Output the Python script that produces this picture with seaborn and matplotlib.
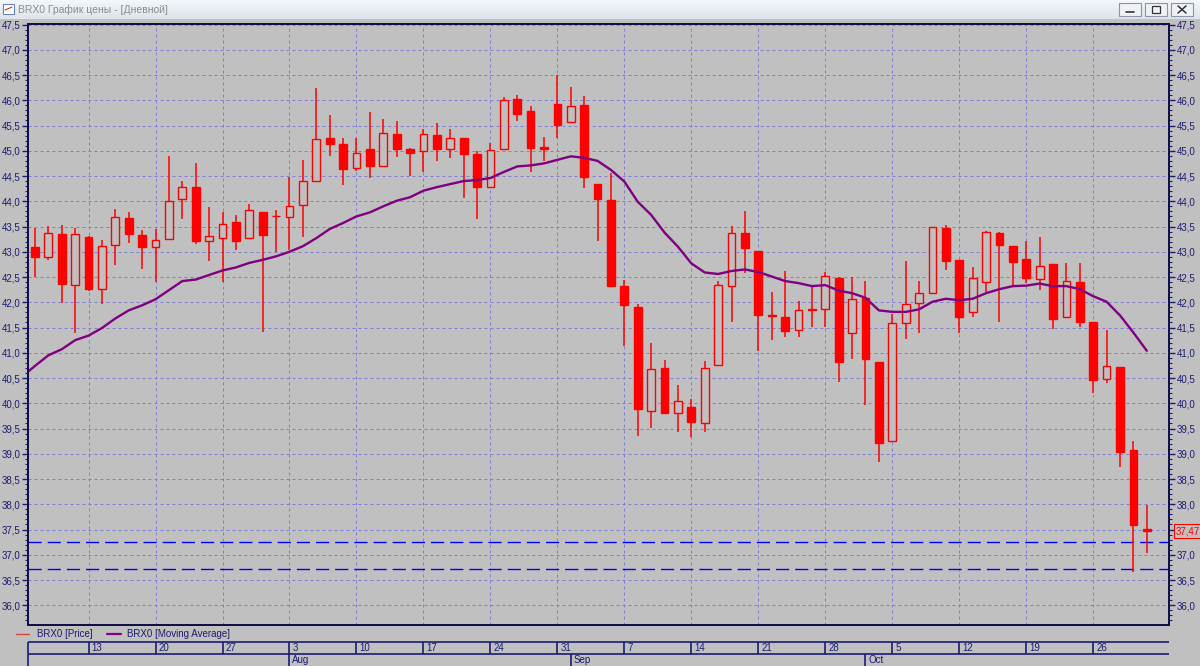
import numpy as np
import pandas as pd
import matplotlib
matplotlib.use("Agg")
import matplotlib.pyplot as plt
import matplotlib.transforms as mtrans
import seaborn as sns
from matplotlib.lines import Line2D
from matplotlib.patches import Rectangle
from matplotlib.ticker import MultipleLocator, FuncFormatter

# ---------------- data ----------------
trade_dates = pd.bdate_range("2020-07-07", "2020-10-30")   # 84 daily candles

opens = [43.09, 42.90, 43.35, 42.34, 43.29, 42.27, 43.13, 43.67, 43.33, 43.10,
         43.25, 44.04, 44.28, 43.21, 43.28, 43.59, 43.27, 43.78, 43.70, 43.69,
         43.92, 44.40, 45.26, 45.14, 44.65, 45.04, 44.70, 45.33, 45.04, 45.00,
         45.31, 45.04, 45.25, 44.94, 44.29, 45.04, 46.03, 45.79, 45.08, 45.93,
         45.56, 45.91, 44.34, 44.02, 42.33, 41.90, 39.85, 40.70, 39.81, 39.93,
         39.60, 40.75, 42.33, 43.37, 43.02, 41.74, 41.70, 41.45, 41.84, 41.86,
         42.49, 41.39, 42.09, 40.81, 39.25, 41.58, 41.99, 42.18, 43.47, 42.83,
         41.80, 42.41, 43.38, 43.12, 42.86, 42.47, 42.75, 41.70, 42.41, 41.60,
         40.49, 40.72, 39.08, 37.51]
highs = [43.47, 43.52, 43.54, 43.47, 43.31, 43.23, 43.85, 43.78, 43.44, 43.45,
         44.89, 44.41, 44.76, 43.89, 43.78, 43.72, 43.94, 43.78, 43.82, 44.48,
         44.82, 46.24, 45.71, 45.26, 45.26, 45.76, 45.62, 45.59, 45.05, 45.43,
         45.54, 45.43, 45.25, 45.00, 45.16, 46.07, 46.10, 45.89, 45.28, 46.51,
         46.26, 46.09, 44.34, 44.55, 42.44, 41.97, 41.19, 40.85, 40.36, 40.08,
         40.83, 42.42, 43.51, 43.81, 43.02, 42.21, 42.61, 42.03, 42.31, 42.59,
         42.50, 42.50, 42.43, 40.81, 41.76, 42.82, 42.42, 43.50, 43.54, 42.83,
         42.69, 43.42, 43.40, 43.12, 43.22, 43.29, 42.75, 42.78, 42.78, 41.60,
         41.45, 40.72, 39.26, 37.99]
lows = [42.50, 42.83, 41.99, 41.40, 42.22, 41.96, 42.73, 43.17, 42.66, 42.40,
        43.24, 43.64, 43.16, 42.81, 42.40, 43.03, 43.26, 41.41, 42.99, 43.04,
        43.30, 44.39, 44.90, 44.32, 44.59, 44.46, 44.69, 44.87, 44.50, 44.57,
        44.79, 44.85, 44.07, 43.65, 44.28, 45.04, 45.58, 44.58, 44.80, 45.25,
        45.56, 44.27, 43.21, 42.33, 41.14, 39.36, 39.51, 39.79, 39.43, 39.33,
        39.43, 40.75, 41.60, 42.57, 41.03, 41.26, 41.32, 41.31, 41.52, 41.52,
        40.43, 40.87, 39.97, 38.84, 39.25, 41.28, 41.40, 42.18, 42.64, 41.40,
        41.70, 42.20, 41.61, 42.34, 42.38, 42.24, 41.47, 41.70, 41.51, 40.21,
        40.41, 38.74, 36.66, 37.04]
closes = [42.89, 43.37, 42.36, 43.35, 42.27, 43.11, 43.68, 43.35, 43.10, 43.24,
          44.01, 44.28, 43.22, 43.31, 43.55, 43.22, 43.83, 43.33, 43.71, 43.90,
          44.40, 45.23, 45.14, 44.63, 44.96, 44.69, 45.36, 45.04, 44.96, 45.34,
          45.04, 45.26, 44.94, 44.29, 45.02, 46.00, 45.72, 45.06, 45.04, 45.52,
          45.88, 44.48, 44.04, 42.33, 41.95, 39.88, 40.68, 39.81, 40.04, 39.62,
          40.70, 42.35, 43.37, 43.08, 41.74, 41.72, 41.43, 41.85, 41.86, 42.53,
          40.82, 42.07, 40.88, 39.22, 41.58, 41.97, 42.18, 43.50, 42.82, 41.71,
          42.48, 43.40, 43.13, 42.80, 42.48, 42.72, 41.67, 42.43, 41.61, 40.47,
          40.74, 39.04, 37.59, 37.47]

ma_dates = pd.bdate_range("2020-07-06", "2020-10-30")     # one day earlier
ma_values = [40.52,
             40.74, 40.95, 41.07, 41.25, 41.34, 41.49, 41.68, 41.84, 41.94, 42.06,
             42.24, 42.42, 42.45, 42.54, 42.63, 42.69, 42.78, 42.84, 42.91, 43.00,
             43.11, 43.27, 43.45, 43.57, 43.70, 43.78, 43.90, 44.01, 44.08, 44.21,
             44.28, 44.34, 44.40, 44.42, 44.46, 44.58, 44.69, 44.71, 44.75, 44.82,
             44.89, 44.86, 44.80, 44.62, 44.39, 43.99, 43.73, 43.38, 43.10, 42.77,
             42.59, 42.56, 42.62, 42.65, 42.60, 42.51, 42.42, 42.38, 42.32, 42.34,
             42.23, 42.18, 42.09, 41.84, 41.81, 41.81, 41.86, 42.01, 42.07, 42.04,
             42.07, 42.18, 42.26, 42.32, 42.33, 42.37, 42.32, 42.32, 42.26, 42.12,
             42.01, 41.74, 41.40, 41.04]

level_lines = [37.26, 36.72]
last_price = 37.47
title_text = "BRX0 График цены - [Дневной]"
legend_labels = ["BRX0 [Price]", "BRX0 [Moving Average]"]

# ---------------- style ----------------
W, H = 1200, 666
BG = "#c0c0c0"
NAVY = "#1c1c72"
RED = "#ff0000"
PURPLE = "#800080"
GRID = "#7f7fd4"

sns.set_theme(style="white")
plt.rcParams["font.family"] = ["Liberation Sans", "DejaVu Sans"]

fig = plt.figure(figsize=(12, 6.66), dpi=100, facecolor=BG)


def px(x0, y0, x1, y1):
    return [x0 / W, 1 - y1 / H, (x1 - x0) / W, (y1 - y0) / H]


df = pd.DataFrame({"date": trade_dates, "open": opens, "high": highs,
                   "low": lows, "close": closes})
df["pos"] = np.arange(len(df))
ma_df = pd.DataFrame({"date": ma_dates, "ma": ma_values})
ma_df["pos"] = np.arange(len(ma_df)) - 1

XLIM = (-0.55, 84.62)
YLIM = (35.61, 47.52)

ax = fig.add_axes(px(27.6, 23.5, 1168.5, 625))
ax.set_facecolor(BG)

# candles
up = (df["close"] >= df["open"]).values
ax.vlines(df["pos"], df["low"], df["high"], color=RED, lw=1.1, zorder=3)
body_bottom = np.minimum(df["open"], df["close"])
body_h = np.maximum(np.abs(df["close"] - df["open"]), 0.012)
ax.bar(df["pos"][~up], body_h[~up], bottom=body_bottom[~up], width=0.58,
       color=RED, edgecolor=RED, lw=1.0, zorder=4)
ax.bar(df["pos"][up], body_h[up], bottom=body_bottom[up], width=0.58,
       facecolor=BG, edgecolor=RED, lw=1.0, zorder=4)

# moving average
sns.lineplot(data=ma_df, x="pos", y="ma", color=PURPLE, lw=1.7, ax=ax,
             zorder=5, legend=False)

for v in level_lines:
    ax.axhline(v, color="#0000ff", lw=1.0, dashes=(9.5, 4.3), zorder=2)

monday_pos = [i for i, d in enumerate(trade_dates) if d.weekday() == 0]
ax.set_xticks(monday_pos)
ax.set_xlim(*XLIM)
ax.set_ylim(*YLIM)
ax.set_xlabel("")
ax.set_ylabel("")
ax.grid(True, which="major", color=GRID, lw=0.72, linestyle=(0, (3, 3)), zorder=0)
ax.set_axisbelow(True)
ax.tick_params(axis="x", length=0, labelbottom=False)

fmt = FuncFormatter(lambda v, p: f"{v:.1f}".replace(".", ","))
ax.yaxis.set_major_locator(MultipleLocator(0.5))
ax.yaxis.set_minor_locator(MultipleLocator(0.1))
ax.yaxis.set_major_formatter(fmt)
ax.tick_params(axis="y", which="major", direction="out", length=4, width=1,
               color=NAVY, labelcolor=NAVY, labelsize=7, pad=1, left=True)
ax.tick_params(axis="y", which="minor", direction="out", length=2, width=0.8,
               color=NAVY, left=True)

ax2 = ax.twinx()
ax2.set_ylim(*YLIM)
ax2.yaxis.set_major_locator(MultipleLocator(0.5))
ax2.yaxis.set_minor_locator(MultipleLocator(0.1))
ax2.yaxis.set_major_formatter(FuncFormatter(
    lambda v, p: "" if abs(v - 37.5) < 1e-6 else f"{v:.1f}".replace(".", ",")))
ax2.tick_params(axis="y", which="major", direction="out", length=4, width=1,
                color=NAVY, labelcolor=NAVY, labelsize=7, pad=2, right=True)
ax2.tick_params(axis="y", which="minor", direction="out", length=2, width=0.8,
                color=NAVY, right=True)
ax2.grid(False)
ax2.set_ylabel("")

for a in (ax, ax2):
    for s in a.spines.values():
        s.set_color("#101048")
        s.set_linewidth(1.3)

trans = mtrans.blended_transform_factory(ax.transAxes, ax.transData)
ax2.text(1.006, last_price, f"{last_price:.2f}".replace(".", ","), transform=trans,
         color=RED, fontsize=7, va="center", ha="left",
         bbox=dict(boxstyle="square,pad=0.18", fc=BG, ec=RED, lw=0.8))

# ---------------- legend row ----------------
ly = 1 - 634 / H
fig.add_artist(Line2D([16 / W, 29 / W], [ly, ly], color="#e04040", lw=1.0))
fig.text(37 / W, ly, legend_labels[0], color=NAVY, fontsize=7, va="center")
fig.add_artist(Line2D([107 / W, 121 / W], [ly, ly], color=PURPLE, lw=1.6))
fig.text(127 / W, ly, legend_labels[1], color=NAVY, fontsize=7, va="center")

# ---------------- date band ----------------
band = fig.add_axes(px(27.6, 642, 1168.5, 666))
band.set_xlim(*XLIM)
band.set_ylim(0, 2)
band.axis("off")
band.hlines([2, 1], XLIM[0], XLIM[1], color=NAVY, lw=1.2, clip_on=False)
band.vlines([XLIM[0]], 0, 2, color=NAVY, lw=1.2, clip_on=False)
band.vlines(monday_pos, 1, 2, color=NAVY, lw=1.2, clip_on=False)
for p in monday_pos:
    band.text(p + 0.22, 1.5, str(trade_dates[p].day), color=NAVY, fontsize=7,
              va="center", ha="left")
month_pos = [i for i in range(1, len(trade_dates))
             if trade_dates[i].month != trade_dates[i - 1].month]
band.vlines(month_pos, 0, 1, color=NAVY, lw=1.2, clip_on=False)
for p in month_pos:
    band.text(p + 0.22, 0.5, trade_dates[p].strftime("%b"), color=NAVY,
              fontsize=7, va="center", ha="left")

# ---------------- window title bar ----------------
tb = fig.add_axes(px(0, 0, 1200, 19))
grad = np.linspace(0, 1, 20).reshape(-1, 1)
tb.imshow(grad, aspect="auto", cmap=matplotlib.colors.LinearSegmentedColormap.from_list(
    "tb", ["#f4f7fb", "#dde4ec"]), extent=(0, 1, 0, 1))
tb.set_xlim(0, 1)
tb.set_ylim(0, 1)
tb.axis("off")
tb.text(18 / W, 0.5, title_text, color="#8c8c8c", fontsize=7.5, va="center", ha="left")
# small icon
fig.add_artist(Rectangle((3 / W, 1 - 14 / H), 11 / W, 10 / H, transform=fig.transFigure,
                         fc="#ffffff", ec="#6a86b8", lw=0.8))
fig.add_artist(Line2D([5 / W, 12 / W], [1 - 10 / H, 1 - 7 / H], color="#d03030", lw=0.8))
# window buttons
for x0 in (1119, 1145, 1171):
    fig.add_artist(Rectangle((x0 / W, 1 - 16 / H), 22 / W, 13 / H,
                             transform=fig.transFigure, fc="#eef1f5", ec="#8a96a8", lw=0.8))
fig.add_artist(Line2D([1126 / W, 1134 / W], [1 - 12 / H, 1 - 12 / H], color="#333333", lw=1.2))
fig.add_artist(Rectangle((1152 / W, 1 - 13 / H), 8 / W, 7 / H, transform=fig.transFigure,
                         fc="none", ec="#333333", lw=0.9))
fig.add_artist(Line2D([1178 / W, 1186 / W], [1 - 6 / H, 1 - 13 / H], color="#333333", lw=1.1))
fig.add_artist(Line2D([1178 / W, 1186 / W], [1 - 13 / H, 1 - 6 / H], color="#333333", lw=1.1))

fig.savefig("out.png", dpi=100, facecolor=BG)
